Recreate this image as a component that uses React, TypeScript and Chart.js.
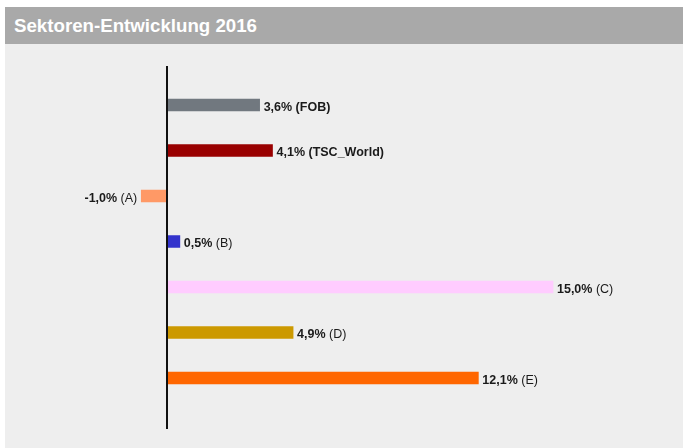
import React, { useEffect, useRef } from "react";
import { Chart, registerables } from "chart.js";

Chart.register(...registerables);

const title = "Sektoren-Entwicklung 2016";
const categories = ["FOB", "TSC_World", "A", "B", "C", "D", "E"];
const values = [3.6, 4.1, -1.0, 0.5, 15.0, 4.9, 12.1];
const barColors = ["#71787f", "#990000", "#ff9966", "#3333cc", "#ffccff", "#cc9900", "#ff6600"];
const boldWhole = [true, true, false, false, false, false, false];

const FONT = "Arial, 'Liberation Sans', Helvetica, sans-serif";
const FS = 12.5;

const bgPlugin = {
  id: "bg",
  beforeDraw(chart: any) {
    const { ctx, width, height } = chart;
    ctx.save();
    ctx.fillStyle = "#eeeeee";
    ctx.fillRect(0, 0, width, height);
    ctx.restore();
  },
};

const zeroLinePlugin = {
  id: "zeroLine",
  afterDatasetsDraw(chart: any) {
    const { ctx } = chart;
    const x = chart.scales.x.getPixelForValue(0);
    ctx.save();
    ctx.strokeStyle = "#111111";
    ctx.lineWidth = 2;
    ctx.beginPath();
    ctx.moveTo(x, 22);
    ctx.lineTo(x, 385);
    ctx.stroke();
    ctx.restore();
  },
};

const labelPlugin = {
  id: "valueLabels",
  afterDatasetsDraw(chart: any) {
    const { ctx } = chart;
    const meta = chart.getDatasetMeta(0);
    ctx.save();
    ctx.fillStyle = "#1a1a1a";
    ctx.textBaseline = "alphabetic";
    meta.data.forEach((bar: any, i: number) => {
      const v = values[i];
      const valTxt = v.toFixed(1).replace(".", ",") + "%";
      const nameTxt = " (" + categories[i] + ")";
      ctx.font = `bold ${FS}px ${FONT}`;
      const w1 = ctx.measureText(valTxt).width;
      ctx.font = `${boldWhole[i] ? "bold " : ""}${FS}px ${FONT}`;
      const w2 = ctx.measureText(nameTxt).width;
      const y = bar.y + 5.5;
      let x0: number;
      if (v >= 0) {
        x0 = bar.x + 4;
      } else {
        x0 = bar.x - 4 - (w1 + w2);
      }
      ctx.font = `bold ${FS}px ${FONT}`;
      ctx.textAlign = "left";
      ctx.fillText(valTxt, x0, y);
      ctx.font = `${boldWhole[i] ? "bold " : ""}${FS}px ${FONT}`;
      ctx.fillText(nameTxt, x0 + w1, y);
    });
    ctx.restore();
  },
};

export default function App() {
  const ref = useRef<HTMLCanvasElement | null>(null);

  useEffect(() => {
    if (!ref.current) return;
    const chart = new Chart(ref.current, {
      type: "bar",
      data: {
        labels: categories,
        datasets: [
          {
            data: values,
            backgroundColor: barColors,
            borderWidth: 0,
            barThickness: 12,
          },
        ],
      },
      options: {
        indexAxis: "y",
        responsive: false,
        animation: false,
        devicePixelRatio: 1,
        layout: { padding: { top: 38.25, bottom: 47.25, left: 59.07, right: 27.07 } },
        plugins: {
          legend: { display: false },
          tooltip: { enabled: false },
          title: { display: false },
        },
        scales: {
          x: { display: false, min: -4, max: 19 },
          y: { display: false },
        },
      },
      plugins: [bgPlugin, zeroLinePlugin, labelPlugin],
    });
    return () => chart.destroy();
  }, []);

  return (
    <div style={{ position: "absolute", left: 5, top: 7, width: 678 }}>
      <div
        style={{
          height: 37,
          lineHeight: "37px",
          background: "#a9a9a9",
          color: "#ffffff",
          fontFamily: FONT,
          fontWeight: "bold",
          fontSize: 18.7,
          paddingLeft: 9,
          boxSizing: "border-box",
          whiteSpace: "nowrap",
        }}
      >
        {title}
      </div>
      <canvas ref={ref} width={678} height={404} style={{ display: "block" }} />
    </div>
  );
}
